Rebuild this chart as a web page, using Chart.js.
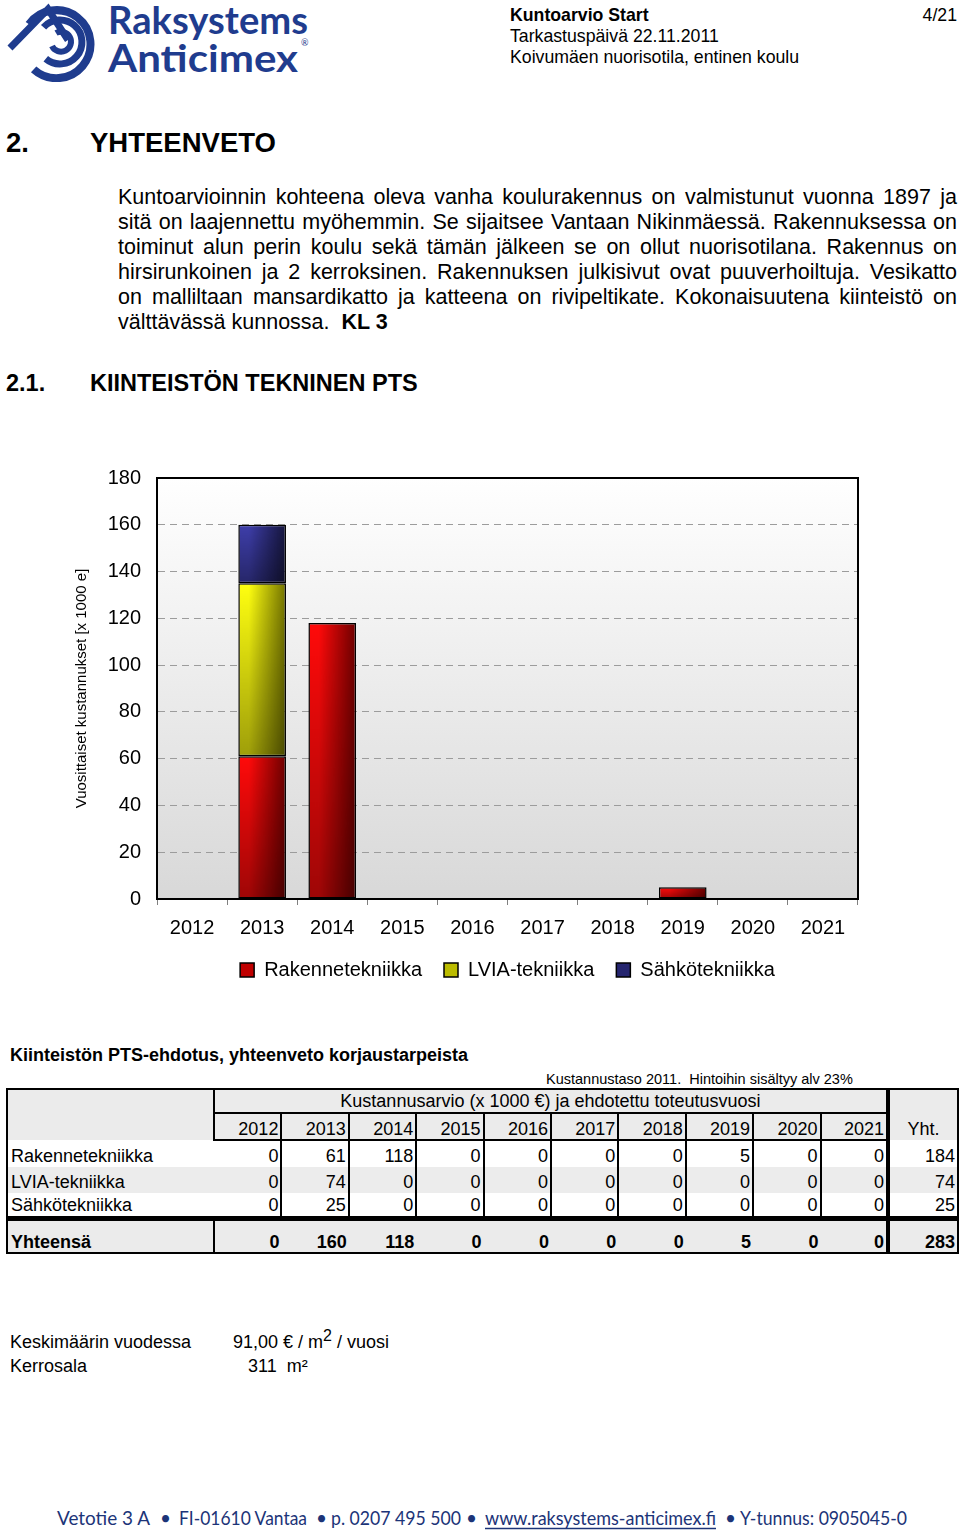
<!DOCTYPE html>
<html lang="fi">
<head>
<meta charset="utf-8">
<title>Kuntoarvio Start – Yhteenveto</title>
<script src="https://cdn.jsdelivr.net/npm/chart.js@4.4.1/dist/chart.umd.min.js"></script>
<style>
  html, body { margin: 0; padding: 0; background: #fff; }
  body {
    width: 960px; height: 1534px; position: relative; overflow: hidden;
    font-family: "Liberation Sans", Arial, Helvetica, sans-serif; color: #000;
  }
  .abs { position: absolute; white-space: nowrap; line-height: 1; }
  .b { font-weight: bold; }
  .para { position: absolute; left: 118px; top: 185px; width: 839px; font-size: 21.5px; line-height: 25px; }
  .para span { display: block; white-space: nowrap; text-align: justify; text-align-last: justify; }
  .para span.last { text-align-last: left; }
  #ptsTable {
    position: absolute; left: 6px; top: 1088px; width: 951px;
    border-collapse: collapse; table-layout: fixed; font-size: 18px; line-height: 1;
    border: 2px solid #000;
  }
  #ptsTable td { padding: 0 3px 0 3px; white-space: nowrap; overflow: hidden; vertical-align: bottom; }
  #ptsTable .gray { background: #ebebeb; }
  #ptsTable .num { text-align: right; padding-right: 2px; }
  #ptsTable .yc { border-right: 2px solid #000; }
  #ptsTable .sep { border-right: 4px solid #000; }
  #ptsTable .lbl { border-right: 2px solid #000; }
  #ptsTable tr.data td { padding-bottom: 2px; }
  #ptsTable tr.tot td { border-top: 5px solid #000; font-weight: bold; background: #ebebeb; height: 30px; padding-bottom: 1px; }
  #chartBox { position: absolute; left: 60px; top: 450px; width: 804px; height: 540px; }
</style>
</head>
<body>

<!-- logo -->
<svg class="abs" style="left:4px;top:0" width="310" height="82" viewBox="0 0 310 82">
  <g fill="none" stroke="#1f3c8e" stroke-linecap="butt">
    <path d="M 33 14 A 34 34 0 1 1 22 58" stroke-width="8" transform="rotate(-20 58 42)"/>
    <path d="M 44 23 A 22 22 0 1 1 38 54" stroke-width="7" transform="rotate(-15 58 42)"/>
    <path d="M 52 33 A 10 10 0 1 1 48 46" stroke-width="6"/>
    <polyline points="6,48 44,9 64,40" stroke-width="7" stroke-linejoin="miter"/>
  </g>
  <text x="104" y="34" font-family="Lato, 'Open Sans', sans-serif" font-weight="bold" font-size="38"
        fill="#1f3c8e" textLength="200" lengthAdjust="spacingAndGlyphs">Raksystems</text>
  <text x="104" y="72" font-family="Lato, 'Open Sans', sans-serif" font-weight="bold" font-size="38"
        fill="#1f3c8e" textLength="190" lengthAdjust="spacingAndGlyphs">Anticimex</text>
  <text x="297" y="46" font-family="Lato, sans-serif" font-size="9" fill="#1f3c8e">®</text>
</svg>

<!-- header -->
<div class="abs b" style="left:510px;top:7px;font-size:17.7px">Kuntoarvio Start</div>
<div class="abs" style="right:3px;top:7px;font-size:17.7px">4/21</div>
<div class="abs" style="left:510px;top:28px;font-size:17.7px">Tarkastuspäivä 22.11.2011</div>
<div class="abs" style="left:510px;top:49px;font-size:17.7px">Koivumäen nuorisotila, entinen koulu</div>

<div class="abs b" style="left:6px;top:129px;font-size:27.5px">2.</div>
<div class="abs b" style="left:90px;top:129px;font-size:27.5px">YHTEENVETO</div>

<div class="para">
  <span>Kuntoarvioinnin kohteena oleva vanha koulurakennus on valmistunut vuonna 1897 ja</span>
  <span>sitä on laajennettu myöhemmin. Se sijaitsee Vantaan Nikinmäessä. Rakennuksessa on</span>
  <span>toiminut alun perin koulu sekä tämän jälkeen se on ollut nuorisotilana. Rakennus on</span>
  <span>hirsirunkoinen ja 2 kerroksinen. Rakennuksen julkisivut ovat puuverhoiltuja. Vesikatto</span>
  <span>on malliltaan mansardikatto ja katteena on rivipeltikate. Kokonaisuutena kiinteistö on</span>
  <span class="last">välttävässä kunnossa.&nbsp; <b>KL 3</b></span>
</div>

<div class="abs b" style="left:6px;top:372px;font-size:23.5px">2.1.</div>
<div class="abs b" style="left:90px;top:372px;font-size:23.5px">KIINTEISTÖN TEKNINEN PTS</div>

<div id="chartBox"><canvas id="ptsChart" width="804" height="540"></canvas></div>

<div class="abs b" style="left:10px;top:1046px;font-size:18px">Kiinteistön PTS-ehdotus, yhteenveto korjaustarpeista</div>
<div class="abs" style="left:546px;top:1072px;font-size:14.5px">Kustannustaso 2011.&nbsp; Hintoihin sisältyy alv 23%</div>

<table id="ptsTable"></table>

<div class="abs" style="left:10px;top:1333px;font-size:18px">Keskimäärin vuodessa</div>
<div class="abs" style="left:233px;top:1333px;font-size:18px">91,00 € / m<span style="font-size:16px;position:relative;top:-7px">2</span> / vuosi</div>
<div class="abs" style="left:10px;top:1357px;font-size:18px">Kerrosala</div>
<div class="abs" style="left:248px;top:1357px;font-size:18px">311&nbsp; m²</div>

<!-- footer -->
<svg class="abs" style="left:0;top:1500px" width="960" height="34" viewBox="0 0 960 34">
  <g font-family="Lato, 'Open Sans', sans-serif" font-size="19" fill="#1c3478">
    <text x="57" y="25" textLength="93" lengthAdjust="spacingAndGlyphs">Vetotie 3 A</text>
    <text x="160" y="25">•</text>
    <text x="179" y="25" textLength="128" lengthAdjust="spacingAndGlyphs">FI-01610 Vantaa</text>
    <text x="316" y="25">•</text>
    <text x="331" y="25" textLength="130" lengthAdjust="spacingAndGlyphs">p. 0207 495 500</text>
    <text x="466" y="25">•</text>
    <text x="485" y="25" textLength="231" lengthAdjust="spacingAndGlyphs">www.raksystems-anticimex.fi</text>
    <text x="725" y="25">•</text>
    <text x="740" y="25" textLength="167" lengthAdjust="spacingAndGlyphs">Y-tunnus: 0905045-0</text>
  </g>
  <line x1="485" y1="28.5" x2="716" y2="28.5" stroke="#1c3478" stroke-width="1.3"/>
</svg>

<script>
// Vuodet ja sarjat (x 1000 €)
const years = ["2012", "2013", "2014", "2015", "2016", "2017", "2018", "2019", "2020", "2021"];
const rakenneTekniikka = [0, 61, 118, 0, 0, 0, 0, 5, 0, 0];
const lviaTekniikka = [0, 74, 0, 0, 0, 0, 0, 0, 0, 0];
const sahkoTekniikka = [0, 25, 0, 0, 0, 0, 0, 0, 0, 0];
const seriesNames = ["Rakennetekniikka", "LVIA-tekniikka", "Sähkötekniikka"];
const yAxisMax = 180;
const yAxisStep = 20;
const yAxisTitle = "Vuosittaiset kustannukset [x 1000 e]";

const allSeries = [rakenneTekniikka, lviaTekniikka, sahkoTekniikka];
const barPct = 0.68;

// vaalea / legendan väri / tumma
const seriesColors = [
  ["#ff0a0a", "#c00000", "#6e0000"],
  ["#ffff10", "#bcbc00", "#747400"],
  ["#3e3eaa", "#25256f", "#16163e"],
];

// Pieni varjostettu pinta, joka venytetään pylvään kokoiseksi
function makeTexture(colors) {
  const c = document.createElement("canvas");
  c.width = 64;
  c.height = 64;
  const g = c.getContext("2d");
  const hg = g.createLinearGradient(0, 0, 64, 0);
  hg.addColorStop(0, colors[0]);
  hg.addColorStop(0.22, colors[0]);
  hg.addColorStop(1, colors[2]);
  g.fillStyle = hg;
  g.fillRect(0, 0, 64, 64);
  const vg = g.createLinearGradient(0, 0, 0, 64);
  vg.addColorStop(0, "rgba(0,0,0,0)");
  vg.addColorStop(1, "rgba(0,0,0,0.38)");
  g.fillStyle = vg;
  g.fillRect(0, 0, 64, 64);
  return c;
}
const textures = seriesColors.map(makeTexture);

function barFill(k) {
  return function (c) {
    const chart = c.chart;
    if (c.type !== "data" || !chart.chartArea) return seriesColors[k][1];
    const xs = chart.scales.x;
    const ys = chart.scales.y;
    const i = c.dataIndex;
    let base = 0;
    for (let j = 0; j < k; j++) base += allSeries[j][i];
    const val = allSeries[k][i];
    const w = (xs.width / years.length) * barPct;
    const left = xs.getPixelForValue(i) - w / 2;
    const top = ys.getPixelForValue(base + val);
    const h = ys.getPixelForValue(base) - top;
    if (h <= 0) return seriesColors[k][1];
    const pat = chart.ctx.createPattern(textures[k], "repeat");
    pat.setTransform(new DOMMatrix([w / 64, 0, 0, h / 64, left, top]));
    return pat;
  };
}

// Taustan liukuväri ja kehys
const plotFrame = {
  id: "plotFrame",
  beforeDraw(chart) {
    const { ctx, chartArea: a } = chart;
    const g = ctx.createLinearGradient(0, a.top, 0, a.bottom);
    g.addColorStop(0, "#ffffff");
    g.addColorStop(1, "#d8d8d8");
    ctx.save();
    ctx.fillStyle = g;
    ctx.fillRect(a.left, a.top, a.width, a.height);
    ctx.restore();
  },
  afterDraw(chart) {
    const { ctx, chartArea: a } = chart;
    ctx.save();
    ctx.strokeStyle = "#000";
    ctx.lineWidth = 2;
    ctx.strokeRect(a.left, a.top, a.width, a.height);
    ctx.restore();
  },
};

Chart.defaults.font.family = '"Liberation Sans", Arial, sans-serif';
Chart.defaults.color = "#000";

const ctx = document.getElementById("ptsChart").getContext("2d");
const ptsChart = new Chart(ctx, {
  type: "bar",
  data: {
    labels: years,
    datasets: allSeries.map((d, k) => ({
      label: seriesNames[k],
      data: d,
      backgroundColor: barFill(k),
      borderColor: "#000",
      borderWidth: 1.5,
      borderSkipped: false,
      inflateAmount: 0,
      barPercentage: barPct,
      categoryPercentage: 1,
    })),
  },
  options: {
    responsive: false,
    animation: false,
    devicePixelRatio: 1,
    layout: { padding: { top: 28, right: 6, bottom: 0, left: 0 } },
    plugins: {
      tooltip: { enabled: false },
      legend: {
        position: "bottom",
        fullSize: false,
        labels: {
          font: { size: 20 },
          color: "#000",
          boxWidth: 14,
          boxHeight: 14,
          padding: 22,
        },
      },
    },
    scales: {
      x: {
        stacked: true,
        grid: { offset: true, drawOnChartArea: false, drawTicks: true, tickLength: 6, color: "#808080" },
        border: { display: true, color: "#000", width: 2 },
        ticks: { font: { size: 20 }, color: "#000", padding: 11, maxRotation: 0 },
        afterFit(scale) { scale.height -= 13; },
      },
      y: {
        stacked: true,
        min: 0,
        max: yAxisMax,
        ticks: { stepSize: yAxisStep, font: { size: 20 }, color: "#000", padding: 16 },
        grid: { color: "#9c9c9c", lineWidth: 1, drawTicks: false },
        border: { display: true, color: "#000", width: 2, dash: [7, 5] },
        title: {
          display: true,
          text: yAxisTitle,
          color: "#000",
          font: { size: 15 },
          padding: { top: 13, bottom: 0 },
        },
        afterFit(scale) { scale.width = 97; },
      },
    },
  },
  plugins: [plotFrame],
});

// Taulukko samoista luvuista
function buildTable() {
  const t = document.getElementById("ptsTable");
  const sum = (a) => a.reduce((p, v) => p + v, 0);
  let html = "<colgroup><col style='width:207px'>";
  years.forEach(() => { html += "<col style='width:67.4px'>"; });
  html += "<col style='width:70px'></colgroup>";

  html += "<tr style='height:24px'><td class='gray lbl' rowspan='2'></td>" +
    "<td class='gray sep' colspan='" + years.length + "' style='text-align:center;vertical-align:middle;border-bottom:2px solid #000'>" +
    "Kustannusarvio (x 1000 €) ja ehdotettu toteutusvuosi</td>" +
    "<td class='gray' rowspan='2' style='text-align:center;padding-bottom:2px'>Yht.</td></tr>";

  html += "<tr style='height:27px'>";
  years.forEach((y, i) => {
    const cls = i === years.length - 1 ? "sep" : "yc";
    html += "<td class='gray num " + cls + "' style='padding-bottom:1px;border-bottom:2px solid #000'>" + y + "</td>";
  });
  html += "</tr>";

  const rowH = [27, 26, 25];
  allSeries.forEach((d, k) => {
    const bg = k === 1 ? "background:#ececec;" : "";
    html += "<tr class='data' style='" + bg + "height:" + rowH[k] + "px'><td>" + seriesNames[k] + "</td>";
    d.forEach((v, i) => {
      const cls = i === d.length - 1 ? "sep" : "yc";
      html += "<td class='num " + cls + "'>" + v + "</td>";
    });
    html += "<td class='num'>" + sum(d) + "</td></tr>";
  });

  html += "<tr class='tot'><td class='lbl'>Yhteensä</td>";
  let grand = 0;
  years.forEach((y, i) => {
    const colSum = allSeries.reduce((p, s) => p + s[i], 0);
    grand += colSum;
    const cls = i === years.length - 1 ? " sep" : "";
    html += "<td class='num" + cls + "'>" + colSum + "</td>";
  });
  html += "<td class='num'>" + grand + "</td></tr>";
  t.innerHTML = html;
}
buildTable();
</script>
</body>
</html>
